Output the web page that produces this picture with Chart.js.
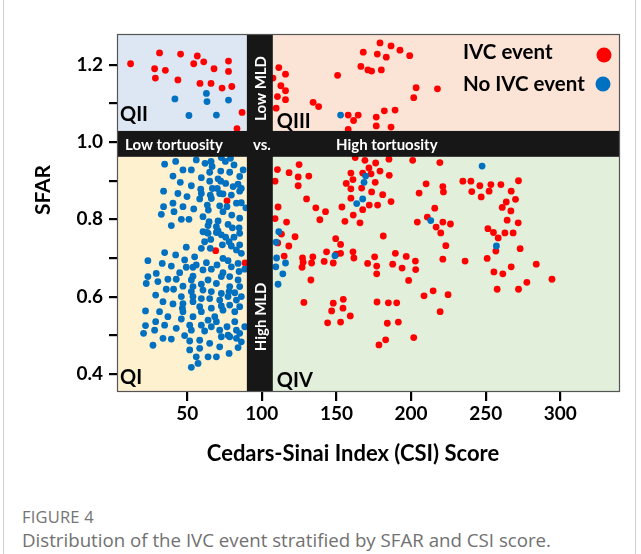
<!DOCTYPE html>
<html>
<head>
<meta charset="utf-8">
<script src="https://cdn.jsdelivr.net/npm/chart.js@4.4.1/dist/chart.umd.min.js"></script>
<style>
  html,body{margin:0;padding:0;background:#fff;}
  body{width:641px;height:554px;position:relative;overflow:hidden;}
  #frame{position:absolute;left:3px;top:-12px;width:633px;height:575px;border:1px solid #cfcfcf;border-radius:10px;box-sizing:border-box;}
  #wrap{position:absolute;left:0;top:0;width:641px;height:490px;}
  #cap1{position:absolute;left:22px;top:505px;font:16.5px "Open Sans",sans-serif;color:#747474;letter-spacing:0.2px;}
  #cap2{position:absolute;left:22px;top:527px;font:18.7px "Open Sans",sans-serif;color:#717171;}
</style>
</head>
<body>
<div id="frame"></div>
<div id="wrap"><canvas id="c" width="641" height="490"></canvas></div>
<div id="cap1">FIGURE 4</div>
<div id="cap2">Distribution of the IVC event stratified by SFAR and CSI score.</div>
<script>
// ---- data (CSI score, SFAR) ----
const ivcCSI = [
 12.1,31.5,45.6,28.2,35.4,28.7,43.8,54.4,56.8,61.1,68.0,77.7,77.7,58.6,66.0,73.4,79.9,86.8,83.4,
 107.5,111.4,115.9,112.8,115.9,110.5,115.9,109.6,134.4,138.1,150.8,166.4,168.0,157.9,164.6,161.5,157.9,171.1,179.2,186.6,177.4,183.4,192.6,199.1,173.6,180.1,203.4,217.7,201.8,182.1,189.3,176.7,176.7,186.6,
 76.7,69.1,88.8,
 110.5,118.3,125.0,124.4,131.5,124.4,108.9,162.6,169.1,176.3,171.8,159.7,167.6,173.2,179.2,161.1,156.6,176.0,159.7,166.9,173.6,181.0,130.0,159.7,172.0,177.6,186.6,167.6,110.9,136.2,142.7,153.7,161.3,165.8,138.9,155.7,108.9,116.6,
 185.2,201.1,219.3,185.4,210.1,205.4,221.3,221.7,234.7,215.9,210.9,204.2,216.8,221.3,226.4,219.9,181.4,223.3,122.3,113.2,110.7,118.1,149.5,152.8,143.4,149.9,152.8,161.1,161.7,189.5,196.8,202.9,221.3,236.2,115.0,127.3,134.2,175.6,141.8,127.7,147.9,133.4,170.9,187.7,
 272.0,267.1,270.0,263.8,261.1,266.9,264.4,271.8,251.5,255.2,258.4,262.9,268.4,260.2,253.5,246.1,252.3,247.0,240.7,240.1,256.8,273.1,251.0,267.1,283.9,255.5,261.5,294.4,
 127.0,177.0,194.0,203.1,177.0,132.9,198.4,128.2,147.9,154.6,146.8,154.4,159.3,144.1,152.8,177.2,184.8,190.4,184.1,191.5,183.0,178.5,201.8,208.7,214.8,224.8,219.5,257.7,272.0,277.6
];
const ivcSFAR = [
 1.203,1.231,1.228,1.190,1.186,1.166,1.161,1.203,1.223,1.208,1.190,1.210,1.183,1.152,1.152,1.140,1.144,1.077,1.035,
 1.166,1.193,1.176,1.146,1.133,1.118,1.110,1.088,1.103,1.092,1.173,1.196,1.233,1.070,1.070,1.056,1.033,1.187,1.257,1.249,1.228,1.220,1.238,1.224,1.184,1.187,1.141,1.138,1.115,1.081,1.083,1.065,1.042,1.039,
 0.848,0.719,0.687,
 0.929,0.921,0.942,0.910,0.912,0.887,0.899,0.960,0.953,0.946,0.933,0.920,0.920,0.918,0.925,0.903,0.893,0.896,0.879,0.881,0.871,0.864,0.853,0.855,0.837,0.837,0.846,0.825,0.832,0.830,0.820,0.832,0.811,0.791,0.799,0.795,0.802,0.793,
 0.956,0.953,0.947,0.914,0.892,0.868,0.885,0.871,0.899,0.829,0.806,0.793,0.780,0.793,0.788,0.765,0.757,0.732,0.755,0.762,0.739,0.731,0.750,0.735,0.716,0.710,0.712,0.716,0.700,0.712,0.704,0.692,0.697,0.692,0.705,0.700,0.703,0.703,0.691,0.689,0.687,0.687,0.686,0.684,
 0.900,0.873,0.852,0.845,0.831,0.822,0.798,0.791,0.776,0.766,0.752,0.765,0.765,0.890,0.890,0.887,0.873,0.858,0.872,0.899,0.718,0.724,0.699,0.677,0.684,0.664,0.659,0.645,
 0.676,0.679,0.674,0.670,0.659,0.643,0.642,0.585,0.583,0.593,0.563,0.570,0.550,0.532,0.534,0.586,0.584,0.584,0.531,0.534,0.488,0.475,0.494,0.602,0.615,0.605,0.561,0.619,0.619,0.637
];
const noIvcCSI = [
 41.8,62.9,63.3,77.7,51.2,69.6,152.8,
 169.6,168.5,167.6,163.6,213.2,111.4,109.6,109.9,149.0,115.9,247.6,257.2,109.4,114.1,110.9,
 34.9,42.3,56.1,62.0,66.0,66.7,75.6,81.4,72.9,79.0,47.2,52.8,40.5,59.5,65.1,72.5,78.5,85.2,87.5,45.4,52.8,65.1,70.7,72.5,66.9,75.8,70.2,84.1,86.3,80.8,
 34.2,43.8,49.9,59.1,59.5,58.4,65.5,66.2,71.8,74.0,79.6,85.2,34.2,40.5,47.2,54.4,63.5,64.2,71.8,76.7,83.0,86.3,89.3,32.7,41.2,46.1,51.2,60.6,64.7,70.7,74.0,79.9,85.2,39.4,64.0,69.6,77.4,80.3,84.8,63.3,70.7,
 60.6,64.0,69.6,72.9,75.8,81.4,85.2,78.1,65.8,61.7,59.5,65.5,73.6,79.6,85.2,83.0,86.3,49.4,42.3,34.9,23.7,33.3,39.4,48.3,55.0,56.1,62.9,70.0,74.0,77.4,79.6,84.1,84.8,88.6,45.0,49.4,53.9,60.6,66.2,74.0,78.5,72.9,64.0,53.9,52.8,42.7,37.1,29.3,23.7,22.6,30.4,36.0,40.9,47.2,53.9,59.5,69.6,78.5,84.1,85.2,78.1,72.9,66.2,60.6,52.8,53.9,46.1,28.9,33.8,40.5,47.2,53.9,59.5,65.1,71.8,77.4,81.9,83.0,86.3,58.4,66.2,72.9,78.5,85.2,46.8,
 22.1,31.5,47.2,59.5,74.0,81.9,22.1,28.9,28.2,37.1,34.9,42.7,46.1,51.7,52.8,53.9,59.5,61.7,64.0,68.5,69.6,66.2,71.8,76.7,77.4,81.9,83.0,85.2,88.6,20.8,33.8,39.4,48.3,51.7,58.4,65.1,72.9,78.5,83.0,86.3,27.1,51.7,58.4,71.8,84.1,56.1,64.0,69.6,78.1,57.3,52.8
];
const noIvcSFAR = [
 1.112,1.126,1.105,1.109,1.069,1.070,1.070,
 0.912,0.896,0.853,0.841,0.797,0.768,0.741,0.700,0.706,0.687,0.938,0.731,0.677,0.659,0.632,
 0.943,0.950,0.954,0.945,0.950,0.937,0.950,0.941,0.960,0.958,0.928,0.928,0.912,0.908,0.922,0.925,0.922,0.911,0.928,0.896,0.887,0.899,0.905,0.899,0.880,0.893,0.880,0.891,0.880,0.885,
 0.873,0.867,0.859,0.878,0.867,0.853,0.863,0.854,0.867,0.866,0.863,0.873,0.833,0.842,0.833,0.827,0.837,0.824,0.835,0.833,0.842,0.843,0.830,0.813,0.820,0.800,0.800,0.807,0.794,0.796,0.820,0.811,0.803,0.784,0.784,0.781,0.787,0.778,0.778,0.766,0.770,
 0.768,0.764,0.766,0.760,0.754,0.754,0.764,0.742,0.748,0.742,0.725,0.725,0.734,0.731,0.734,0.721,0.712,0.728,0.708,0.714,0.693,0.686,0.679,0.695,0.703,0.682,0.688,0.682,0.699,0.693,0.677,0.686,0.665,0.671,0.662,0.676,0.676,0.669,0.671,0.662,0.652,0.652,0.643,0.653,0.643,0.645,0.645,0.660,0.652,0.634,0.639,0.619,0.619,0.627,0.626,0.632,0.634,0.626,0.643,0.626,0.613,0.608,0.613,0.617,0.613,0.600,0.600,0.604,0.587,0.581,0.582,0.587,0.595,0.595,0.591,0.600,0.610,0.591,0.600,0.574,0.570,0.576,0.578,0.574,0.570,
 0.563,0.561,0.561,0.561,0.565,0.561,0.525,0.535,0.513,0.548,0.526,0.518,0.542,0.526,0.513,0.548,0.526,0.511,0.539,0.548,0.535,0.522,0.513,0.522,0.500,0.535,0.513,0.505,0.522,0.505,0.492,0.490,0.499,0.485,0.487,0.479,0.496,0.496,0.492,0.483,0.474,0.462,0.466,0.470,0.468,0.444,0.444,0.444,0.453,0.427,0.417
];
const xTickValues = [50,100,150,200,250,300];
const yTickValues = [0.4,0.5,0.6,0.7,0.8,0.9,1.0,1.1,1.2];
const yTickLabels = ['0.4','','0.6','','0.8','','1.0','','1.2'];
const seriesNames = ['IVC event','No IVC event'];
const xTitle = 'Cedars-Sinai Index (CSI) Score';
const yTitle = 'SFAR';
const bandCSI = [90, 107.4];     // vertical separator band (CSI units)
const bandSFAR = [0.962, 1.029]; // horizontal separator band (SFAR units)

const RED = '#ff0000', BLUE = '#0070c0';
const pts = (xs, ys) => xs.map((v,i)=>({x:v, y:ys[i]}));

const quadPlugin = {
  id:'quad',
  beforeDatasetsDraw(chart){
    const {ctx, chartArea:a, scales:{x,y}} = chart;
    const x1 = x.getPixelForValue(bandCSI[0]), x2 = x.getPixelForValue(bandCSI[1]);
    const y1 = y.getPixelForValue(bandSFAR[1]), y2 = y.getPixelForValue(bandSFAR[0]);
    ctx.save();
    ctx.fillStyle='#dde7f3'; ctx.fillRect(a.left,a.top,x1-a.left,y1-a.top);
    ctx.fillStyle='#fbe4d6'; ctx.fillRect(x2,a.top,a.right-x2,y1-a.top);
    ctx.fillStyle='#fef1cf'; ctx.fillRect(a.left,y2,x1-a.left,a.bottom-y2);
    ctx.fillStyle='#e2efda'; ctx.fillRect(x2,y2,a.right-x2,a.bottom-y2);
    ctx.restore();
  },
  afterDatasetsDraw(chart){
    const {ctx, chartArea:a, scales:{x,y}} = chart;
    const x1 = x.getPixelForValue(bandCSI[0]), x2 = x.getPixelForValue(bandCSI[1]);
    const y1 = y.getPixelForValue(bandSFAR[1]), y2 = y.getPixelForValue(bandSFAR[0]);
    ctx.save();
    ctx.fillStyle='#171717';
    ctx.fillRect(x1,a.top,x2-x1,a.bottom-a.top);
    ctx.fillRect(a.left,y1,a.right-a.left,y2-y1);
    // band texts
    const ym = (y1+y2)/2, xm=(x1+x2)/2;
    ctx.fillStyle='#ffffff';
    ctx.font='bold 15px Lato';
    ctx.textBaseline='middle';
    ctx.textAlign='left';
    ctx.fillText('Low tortuosity', a.left+8, ym+1);
    ctx.textAlign='center';
    ctx.fillText('vs.', xm+2, ym+1);
    ctx.fillText('High tortuosity', x2+114, ym+1);
    ctx.save(); ctx.translate(xm+1, (a.top+y1)/2+6); ctx.rotate(-Math.PI/2);
    ctx.fillText('Low MLD',0,0); ctx.restore();
    ctx.save(); ctx.translate(xm+1, y2+160); ctx.rotate(-Math.PI/2);
    ctx.fillText('High MLD',0,0); ctx.restore();
    // quadrant labels
    ctx.fillStyle='#000';
    ctx.font='bold 20px Lato';
    ctx.textAlign='left'; ctx.textBaseline='alphabetic';
    ctx.fillText('QII', a.left+3, y1-10);
    ctx.fillText('QIII', x2+4, y1-3);
    ctx.fillText('QI', a.left+3, a.bottom-8);
    ctx.fillText('QIV', x2+4, a.bottom-5);
    // legend
    ctx.font='bold 20.5px Lato';
    ctx.textBaseline='middle';
    ctx.fillText(seriesNames[0], a.right-157, a.top+18);
    ctx.fillText(seriesNames[1], a.right-157, a.top+50);
    ctx.fillStyle=RED; ctx.beginPath(); ctx.arc(a.right-16, a.top+21, 7.5, 0, Math.PI*2); ctx.fill();
    ctx.fillStyle=BLUE; ctx.beginPath(); ctx.arc(a.right-17, a.top+50, 7.5, 0, Math.PI*2); ctx.fill();
    // plot border
    ctx.strokeStyle='#555'; ctx.lineWidth=1.2;
    ctx.strokeRect(a.left+0.5,a.top+0.5,a.right-a.left-1,a.bottom-a.top-1);
    ctx.restore();
  },
  afterDraw(chart){
    const {ctx} = chart;
    ctx.save();
    ctx.fillStyle='#000';
    ctx.font='bold 22px Lato';
    ctx.textAlign='center'; ctx.textBaseline='middle';
    ctx.fillText(xTitle, 353, 454);
    ctx.translate(43, 190); ctx.rotate(-Math.PI/2);
    ctx.font='bold 21px Lato';
    ctx.fillText(yTitle, 0, 0);
    ctx.restore();
  }
};

new Chart(document.getElementById('c'), {
  type:'scatter',
  data:{datasets:[
    {label:seriesNames[1], data:pts(noIvcCSI,noIvcSFAR), backgroundColor:BLUE, borderWidth:0, pointRadius:3.4, pointHoverRadius:3.4},
    {label:seriesNames[0], data:pts(ivcCSI,ivcSFAR), backgroundColor:RED, borderWidth:0, pointRadius:3.4, pointHoverRadius:3.4}
  ]},
  options:{
    responsive:false, animation:false,
    layout:{padding:{left:0,right:21,top:34,bottom:0}},
    plugins:{legend:{display:false}, tooltip:{enabled:false}},
    scales:{
      x:{type:'linear', min:3, max:340,
        afterFit(s){ s.height = 98; },
        afterBuildTicks(s){ s.ticks = xTickValues.map(v=>({value:v})); },
        grid:{drawOnChartArea:false, drawTicks:true, tickLength:9, color:'#000', lineWidth:2.2},
        border:{display:false},
        ticks:{color:'#000', font:{family:'Lato', weight:'bold', size:19}, padding:1, maxRotation:0, autoSkip:false},
        title:{display:false}
      },
      y:{type:'linear', min:0.353, max:1.28,
        afterFit(s){ s.width = 117; },
        afterBuildTicks(s){ s.ticks = yTickValues.map(v=>({value:v})); },
        grid:{drawOnChartArea:false, drawTicks:true, tickLength:8, color:'#000', lineWidth:2.2},
        border:{display:false},
        ticks:{color:'#000', font:{family:'Lato', weight:'bold', size:19}, padding:6, autoSkip:false,
          callback:(v,i)=>yTickLabels[i]},
        title:{display:false}
      }
    }
  },
  plugins:[quadPlugin]
});
</script>
</body>
</html>
